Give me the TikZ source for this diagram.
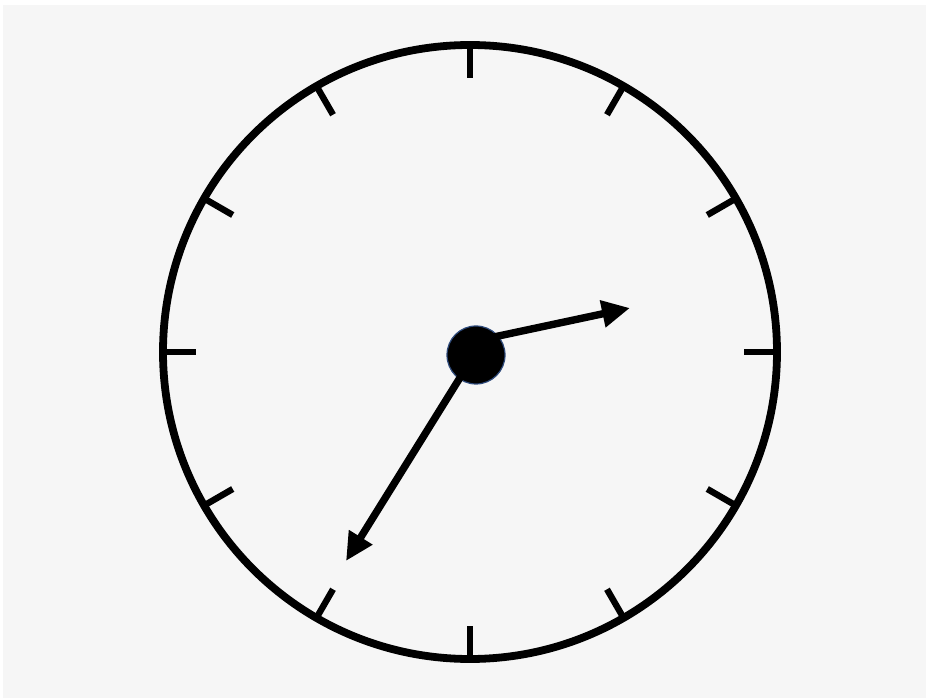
\documentclass[tikz,border=0pt]{standalone}
\usepackage{xcolor}
\usepackage{tikz}
\usetikzlibrary{arrows.meta, calc}

\definecolor{facebg}{HTML}{F6F6F6}
\definecolor{hubedge}{HTML}{2F4B7C}

\tikzset{
  tick/.style={line width=3.2pt},
  hand/.style={line width=3.7pt, -{Triangle[length=14pt, width=13pt]}, shorten <=-2pt},
}

\begin{document}
\begin{tikzpicture}[x=0.5pt, y=-0.5pt]
    \useasboundingbox (0,0) rectangle (928,700);
    \fill[white] (0,0) rectangle (928,700);
    \fill[facebg] (3,5) rectangle (926,698);

    % dial
    \draw[line width=3.9pt] (470,352) circle (307);
    \foreach \a in {0,30,...,330}
      \draw[tick] ($(470,352)+(\a:307)$) -- ($(470,352)+(\a:274)$);

    % hands
    \node[circle, fill=black, draw=hubedge, line width=0.6pt, minimum size=29pt, inner sep=0pt] (hub) at (476,355) {};
    \coordinate (hourtip) at (630,308);
    \coordinate (minutetip) at (346,561);
    \draw[hand] (hub.40) -- (hourtip);
    \draw[hand] (hub.235) -- (minutetip);
\end{tikzpicture}
\end{document}
